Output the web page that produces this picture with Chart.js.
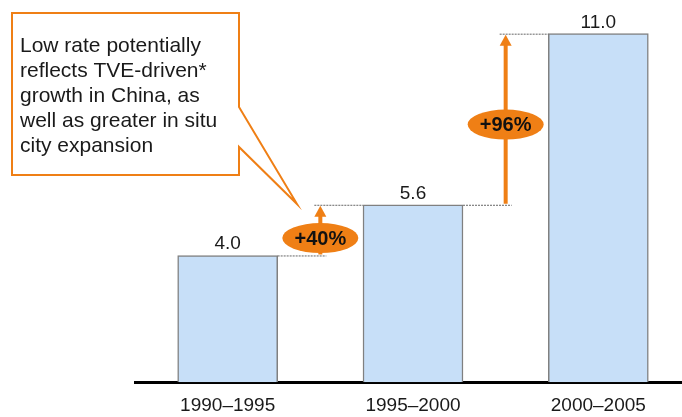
<!DOCTYPE html>
<html>
<head>
<meta charset="utf-8">
<script src="https://cdn.jsdelivr.net/npm/chart.js@4"></script>
<style>
  html, body { margin: 0; padding: 0; background: #fff; overflow: hidden; }
  #wrap { position: relative; width: 691px; height: 429px; }
</style>
</head>
<body>
<div id="wrap"><canvas id="growthChart"></canvas></div>
<script>
const periods = ["1990\u20131995", "1995\u20132000", "2000\u20132005"];
const values = [4.0, 5.6, 11.0];
const growthLabels = ["+40%", "+96%"];
const growthBadgeAt = [4.55, 8.13];   // value where each badge sits
const noteLines = [
    "Low rate potentially",
    "reflects TVE-driven*",
    "growth in China, as",
    "well as greater in situ",
    "city expansion"
];

const FONT = "'Liberation Sans', Arial, sans-serif";
const ORANGE = "#EF7F15";

// value labels over the bars
const valueLabels = {
    id: "valueLabels",
    afterDatasetsDraw(chart) {
        const ctx = chart.ctx;
        const meta = chart.getDatasetMeta(0);
        ctx.save();
        ctx.font = "19px " + FONT;
        ctx.fillStyle = "#1a1a1a";
        ctx.textAlign = "center";
        ctx.textBaseline = "alphabetic";
        meta.data.forEach((bar, i) => {
            ctx.fillText(values[i].toFixed(1), bar.x, bar.y - 6);
        });
        ctx.restore();
    }
};

// growth arrows, dashed guides and the callout
const growthArrows = {
    id: "growthArrows",
    afterDatasetsDraw(chart) {
        const ctx = chart.ctx;
        const y = chart.scales.y;
        const bars = chart.getDatasetMeta(0).data;
        ctx.save();

        for (let i = 0; i < bars.length - 1; i++) {
            const a = bars[i], b = bars[i + 1];
            const right = a.x + a.width / 2;
            const left = b.x - b.width / 2;
            const ax = (right + left) / 2;
            const yLow = y.getPixelForValue(values[i]);
            const yHigh = y.getPixelForValue(values[i + 1]);

            // dashed guides
            ctx.strokeStyle = "#666";
            ctx.lineWidth = 1;
            ctx.setLineDash([2, 1]);
            ctx.beginPath();
            ctx.moveTo(right, yLow + 0.5);
            ctx.lineTo(ax + 6, yLow + 0.5);
            ctx.moveTo(ax - 6, yHigh + 0.5);
            ctx.lineTo(left, yHigh + 0.5);
            ctx.stroke();
            ctx.setLineDash([]);

            // arrow
            ctx.strokeStyle = ORANGE;
            ctx.fillStyle = ORANGE;
            ctx.lineWidth = 4;
            ctx.beginPath();
            ctx.moveTo(ax, yLow - 1);
            ctx.lineTo(ax, yHigh + 10);
            ctx.stroke();
            ctx.beginPath();
            ctx.moveTo(ax, yHigh + 1);
            ctx.lineTo(ax - 6, yHigh + 12);
            ctx.lineTo(ax + 6, yHigh + 12);
            ctx.closePath();
            ctx.fill();

            // badge
            const by = y.getPixelForValue(growthBadgeAt[i]);
            ctx.beginPath();
            ctx.ellipse(ax, by, 38, 15, 0, 0, Math.PI * 2);
            ctx.fill();
            ctx.fillStyle = "#111";
            ctx.font = "bold 20px " + FONT;
            ctx.textAlign = "center";
            ctx.textBaseline = "middle";
            ctx.fillText(growthLabels[i], ax, by + 1);
        }

        // callout box with pointer
        ctx.beginPath();
        ctx.moveTo(12, 13);
        ctx.lineTo(239, 13);
        ctx.lineTo(239, 107);
        ctx.lineTo(297, 204);
        ctx.lineTo(239, 147);
        ctx.lineTo(239, 175);
        ctx.lineTo(12, 175);
        ctx.closePath();
        ctx.fillStyle = "#fff";
        ctx.fill();
        ctx.strokeStyle = ORANGE;
        ctx.lineWidth = 2;
        ctx.lineJoin = "miter";
        ctx.stroke();

        ctx.fillStyle = "#1a1a1a";
        ctx.font = "21px " + FONT;
        ctx.textAlign = "left";
        ctx.textBaseline = "alphabetic";
        noteLines.forEach((line, i) => {
            ctx.fillText(line, 20, 52 + i * 25);
        });

        ctx.restore();
    }
};

const chartCanvas = document.getElementById("growthChart").getContext("2d");

new Chart(chartCanvas, {
    type: "bar",
    data: {
        labels: periods,
        datasets: [{
            data: values,
            backgroundColor: "#C7DFF8",
            borderColor: "#808080",
            borderWidth: 1.5,
            barThickness: 100,
            borderSkipped: "bottom"
        }]
    },
    options: {
        responsive: true,
        maintainAspectRatio: false,
        animation: false,
        layout: { padding: { left: 135, right: 0, top: 2, bottom: 0 } },
        scales: {
            x: {
                grid: { display: false, drawTicks: false },
                border: { display: true, color: "#000", width: 3 },
                ticks: {
                    padding: 12,
                    color: "#1a1a1a",
                    font: { family: FONT, size: 19 }
                }
            },
            y: {
                display: false,
                min: 0,
                max: 12
            }
        },
        plugins: {
            legend: { display: false },
            tooltip: { enabled: false }
        }
    },
    plugins: [valueLabels, growthArrows]
});
</script>
</body>
</html>
